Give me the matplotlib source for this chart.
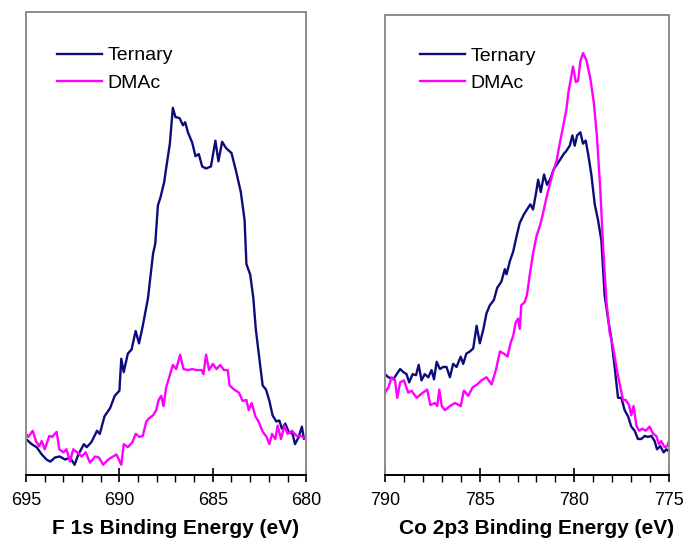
import matplotlib.pyplot as plt
from matplotlib.ticker import MultipleLocator

# F 1s panel (binding energy in eV, intensity in arbitrary units)
f_ter_e = [695.0, 694.7, 694.43, 694.16, 693.9, 693.7, 693.45, 693.2, 692.9, 692.65,
           692.4, 692.2, 691.9, 691.75, 691.5, 691.2, 691.05, 690.8, 690.5, 690.25,
           690.0, 689.9, 689.77, 689.55, 689.35, 689.13, 688.95, 688.75, 688.47, 688.2,
           688.08, 687.94, 687.8, 687.6, 687.5, 687.3, 687.14, 687.0, 686.78, 686.6,
           686.48, 686.33, 686.1, 685.93, 685.75, 685.57, 685.36, 685.1, 684.86, 684.7,
           684.5, 684.3, 684.0, 683.75, 683.5, 683.3, 683.2, 683.0, 682.83, 682.7,
           682.5, 682.33, 682.15, 681.97, 681.8, 681.6, 681.44, 681.3, 681.12, 680.94,
           680.73, 680.6, 680.4, 680.23, 680.12, 680.0]
f_ter_i = [35, 30, 27, 20, 15, 13, 17, 18, 15, 17,
           10, 20, 30, 27, 32, 43, 40, 57, 65, 77,
           82, 113, 100, 118, 122, 140, 128, 145, 172, 215,
           225, 262, 270, 285, 298, 322, 357, 348, 347, 340,
           343, 333, 323, 310, 312, 300, 298, 300, 325, 305,
           324, 318, 313, 295, 275, 248, 205, 195, 172, 142,
           112, 87, 83, 72, 58, 52, 53, 45, 50, 42,
           40, 30, 37, 47, 35, 37]

f_dma_e = [695.0, 694.88, 694.64, 694.47, 694.3, 694.16, 694.0, 693.75, 693.6, 693.36,
           693.22, 693.0, 692.83, 692.65, 692.47, 692.26, 692.03, 691.8, 691.58, 691.3,
           691.1, 690.87, 690.6, 690.34, 690.16, 689.9, 689.77, 689.55, 689.3, 689.13,
           688.92, 688.75, 688.56, 688.42, 688.2, 688.03, 687.9, 687.76, 687.64, 687.5,
           687.3, 687.14, 686.96, 686.75, 686.57, 686.33, 686.1, 685.86, 685.6, 685.5,
           685.36, 685.2, 685.0, 684.8, 684.6, 684.4, 684.2, 684.1, 683.85, 683.6,
           683.4, 683.2, 683.08, 682.92, 682.72, 682.55, 682.33, 682.12, 681.97, 681.83,
           681.65, 681.53, 681.35, 681.17, 681.0, 680.76, 680.52, 680.28, 680.0]
f_dma_i = [40, 37, 43, 33, 28, 33, 25, 38, 37, 42,
           25, 22, 25, 13, 25, 22, 18, 22, 12, 18,
           17, 10, 15, 18, 20, 10, 30, 27, 32, 40,
           37, 38, 52, 55, 58, 63, 73, 77, 67, 85,
           97, 107, 103, 117, 103, 102, 103, 102, 102, 98,
           117, 102, 108, 103, 107, 102, 102, 87, 83, 80,
           72, 73, 63, 70, 57, 52, 42, 37, 30, 40,
           35, 48, 35, 48, 40, 43, 38, 38, 35]

# Co 2p3 panel
co_ter_e = [790.0, 789.82, 789.56, 789.38, 789.2, 789.03, 788.86, 788.72, 788.54, 788.36,
            788.22, 788.07, 787.9, 787.71, 787.54, 787.41, 787.27, 787.1, 786.92, 786.75,
            786.57, 786.4, 786.22, 786.0, 785.87, 785.7, 785.52, 785.34, 785.16, 784.99,
            784.8, 784.64, 784.46, 784.25, 784.07, 783.85, 783.67, 783.58, 783.4, 783.23,
            783.05, 782.88, 782.67, 782.5, 782.32, 782.18, 782.03, 781.91, 781.77, 781.6,
            781.44, 781.26, 781.09, 780.91, 780.73, 780.56, 780.42, 780.24, 780.1, 779.98,
            779.85, 779.68, 779.54, 779.4, 779.27, 779.1, 778.92, 778.75, 778.57, 778.4,
            778.22, 778.04, 777.87, 777.69, 777.52, 777.34, 777.16, 776.99, 776.81, 776.64,
            776.46, 776.28, 776.11, 775.93, 775.76, 775.63, 775.46, 775.28, 775.14, 775.0]
co_ter_i = [98, 95, 93, 98, 103, 100, 98, 90, 98, 97,
            107, 92, 98, 95, 102, 93, 110, 103, 105, 105,
            95, 108, 105, 115, 108, 118, 120, 123, 145, 128,
            142, 157, 165, 170, 182, 188, 200, 195, 208, 217,
            232, 245, 253, 258, 263, 258, 273, 287, 275, 292,
            282, 288, 297, 302, 307, 312, 315, 320, 330, 320,
            330, 333, 322, 325, 312, 292, 263, 248, 228, 175,
            152, 132, 105, 75, 75, 63, 57, 47, 43, 35,
            35, 38, 37, 38, 33, 25, 28, 22, 25, 23]

co_dma_e = [790.0, 789.82, 789.65, 789.47, 789.35, 789.2, 789.0, 788.77, 788.6, 788.33,
            788.0, 787.77, 787.6, 787.36, 787.24, 787.13, 787.0, 786.83, 786.57, 786.3,
            786.0, 785.83, 785.6, 785.38, 785.13, 784.9, 784.64, 784.37, 784.14, 783.93,
            783.72, 783.53, 783.37, 783.23, 783.1, 782.97, 782.88, 782.8, 782.62, 782.5,
            782.35, 782.18, 782.0, 781.82, 781.68, 781.56, 781.44, 781.3, 781.12, 780.94,
            780.77, 780.6, 780.42, 780.31, 780.21, 780.07, 779.92, 779.8, 779.68, 779.54,
            779.36, 779.15, 778.97, 778.8, 778.62, 778.48, 778.3, 778.13, 777.96, 777.78,
            777.6, 777.43, 777.29, 777.11, 776.99, 776.87, 776.72, 776.58, 776.41, 776.23,
            776.02, 775.84, 775.67, 775.53, 775.41, 775.23, 775.1, 775.0]
co_dma_i = [80, 85, 95, 92, 75, 90, 92, 80, 82, 75,
            80, 83, 68, 70, 67, 83, 67, 63, 67, 70,
            67, 82, 77, 85, 88, 92, 95, 88, 102, 120,
            118, 115, 128, 135, 148, 152, 142, 165, 168, 175,
            195, 215, 232, 242, 252, 262, 272, 282, 295, 305,
            322, 338, 355, 372, 382, 397, 382, 383, 402, 410,
            403, 385, 362, 328, 275, 222, 168, 138, 125, 105,
            88, 73, 73, 68, 58, 67, 48, 43, 45, 43,
            47, 40, 38, 30, 33, 27, 28, 33]

navy = '#0c0c7a'
magenta = '#ff00ff'
grey = '#8c8c8c'

plt.rcParams['font.family'] = ['Liberation Sans', 'DejaVu Sans']

fig = plt.figure(figsize=(6.85, 5.42), dpi=100)
ax1 = fig.add_axes([0.038, 0.1236, 0.409, 0.854])
ax2 = fig.add_axes([0.562, 0.1236, 0.4146, 0.8487])

panels = [
    (ax1, f_ter_e, f_ter_i, f_dma_e, f_dma_i, (695, 680), 450,
     'F 1s Binding Energy (eV)', (0.11, 0.925)),
    (ax2, co_ter_e, co_ter_i, co_dma_e, co_dma_i, (790, 775), 447,
     'Co 2p3 Binding Energy (eV)', (0.123, 0.93)),
]

for ax, te, ti, de, di, xl, ytop, lab, lpos in panels:
    ax.plot(te, ti, color=navy, lw=1.7, label='Ternary')
    ax.plot(de, di, color=magenta, lw=1.7, label='DMAc')
    ax.set_xlim(*xl)
    ax.set_ylim(0, ytop)
    ax.set_yticks([])
    ax.xaxis.set_major_locator(MultipleLocator(5))
    ax.xaxis.set_minor_locator(MultipleLocator(1))
    ax.tick_params(axis='x', which='major', direction='inout', length=10,
                   width=1.2, labelsize=13, pad=7)
    ax.tick_params(axis='x', which='minor', direction='out', length=5, width=1.0)
    for s in ['left', 'right', 'top']:
        ax.spines[s].set_color(grey)
        ax.spines[s].set_linewidth(1.4)
    ax.spines['bottom'].set_color('black')
    ax.spines['bottom'].set_linewidth(1.4)
    ax.set_xlabel(lab, fontsize=15, fontweight='bold')
    ax.xaxis.set_label_coords(0.534, -0.095)
    ax.legend(loc='upper left', bbox_to_anchor=lpos, frameon=False,
              fontsize=14, borderpad=0, borderaxespad=0, handlelength=2.3,
              handletextpad=0.3, labelspacing=0.5)

fig.savefig('out.png', dpi=100)
